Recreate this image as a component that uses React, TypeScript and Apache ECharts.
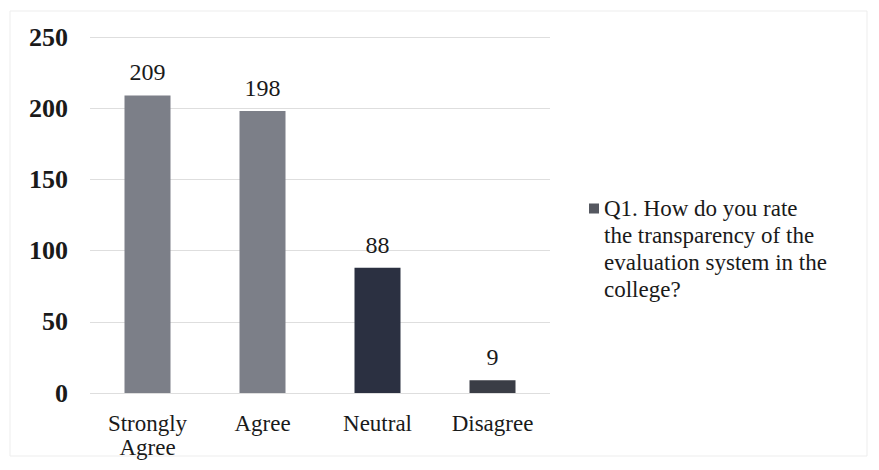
import React, { useEffect, useRef } from "react";
import * as echarts from "echarts";

const categories = ["Strongly\nAgree", "Agree", "Neutral", "Disagree"];
const values = [209, 198, 88, 9];
const barColors = ["#7c7f88", "#7c7f88", "#2b3041", "#3a3d46"];
const seriesName =
  "Q1. How do you rate\nthe transparency of the\nevaluation system in the\ncollege?";
const yTicks = { min: 0, max: 250, interval: 50 };

const FONT = "'Liberation Serif', 'Times New Roman', serif";

// legend icon: small square at top of a tall box so it aligns with the first text line
const LEGEND_ICON = "path://M0,0L10,0M0,8.5L10,8.5L10,18.5L0,18.5ZM0,108L10,108";

export default function App() {
  const ref = useRef<HTMLDivElement>(null);
  useEffect(() => {
    if (!ref.current) return;
    const chart = echarts.init(ref.current, undefined, { renderer: "svg" });
    chart.setOption({
      animation: false,
      backgroundColor: "#ffffff",
      textStyle: { fontFamily: FONT },
      grid: { left: 90, right: 329, top: 37, bottom: 77, containLabel: false },
      legend: {
        orient: "vertical",
        left: 589,
        top: 195,
        padding: 0,
        itemWidth: 10,
        itemHeight: 108,
        itemGap: 0,
        icon: LEGEND_ICON,
        textStyle: {
          fontFamily: FONT,
          fontSize: 23,
          lineHeight: 27,
          color: "#1a1a1a",
        },
        data: [{ name: seriesName, icon: LEGEND_ICON, itemStyle: { color: "#555860" } }],
      },
      xAxis: {
        type: "category",
        data: categories,
        axisLine: { show: false },
        axisTick: { show: false },
        axisLabel: {
          fontFamily: FONT,
          fontSize: 23,
          lineHeight: 24,
          color: "#1a1a1a",
          margin: 18,
          interval: 0,
        },
      },
      yAxis: {
        type: "value",
        ...yTicks,
        axisLine: { show: false },
        axisTick: { show: false },
        splitLine: { show: true, lineStyle: { color: "#dedede", width: 1 } },
        axisLabel: {
          fontFamily: FONT,
          fontSize: 26,
          fontWeight: "bold",
          color: "#1a1a1a",
          margin: 22,
        },
      },
      series: [
        {
          name: seriesName,
          type: "bar",
          barWidth: 46,
          data: values.map((v, i) => ({ value: v, itemStyle: { color: barColors[i] } })),
          itemStyle: { color: "#555860" },
          label: {
            show: true,
            position: "top",
            distance: 11,
            fontFamily: FONT,
            fontSize: 24,
            color: "#1a1a1a",
          },
        },
      ],
      graphic: [
        {
          type: "rect",
          shape: { x: 10, y: 11, width: 857, height: 445 },
          style: { fill: "none", stroke: "#ededed", lineWidth: 1 },
          silent: true,
          z: -1,
        },
      ],
    });
    return () => chart.dispose();
  }, []);
  return (
    <div
      ref={ref}
      style={{ position: "fixed", left: 0, top: 0, width: 879, height: 470 }}
    />
  );
}
